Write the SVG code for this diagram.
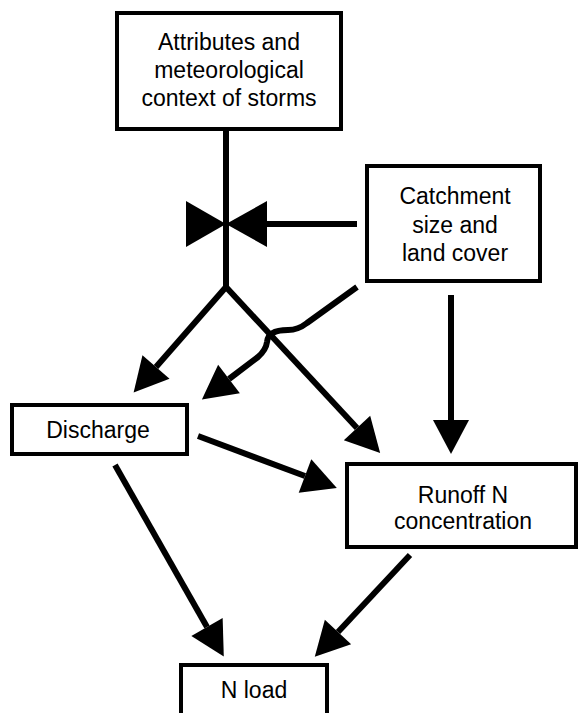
<svg xmlns="http://www.w3.org/2000/svg" width="579" height="713" viewBox="0 0 579 713">
<style>
.box{fill:#fff;stroke:#000;stroke-width:4}
.lbl{font-family:"Liberation Sans",Arial,Helvetica,sans-serif;font-size:23px;fill:#000;text-anchor:middle}
.ln{fill:none;stroke:#000;stroke-width:6;stroke-linejoin:round}
.arr{marker-end:url(#ah)}
</style>
<defs>
<marker id="ah" markerUnits="userSpaceOnUse" markerWidth="40" markerHeight="40" refX="0" refY="0" orient="auto" viewBox="0 -20 40 40" overflow="visible">
<path d="M0,-18 L34,0 L0,18 Z" fill="#000"/>
</marker>
</defs>
<rect width="579" height="713" fill="#fff"/>
<g id="connectors">
<line class="ln" x1="226" y1="130" x2="226" y2="287"/>
<polygon points="186,201 186,247 226,224" fill="#000"/>
<polygon points="267,201 267,247 226,224" fill="#000"/>
<line class="ln" x1="357" y1="224" x2="265" y2="224"/>
<polyline class="ln arr" points="226,287 156,367"/>
<polyline class="ln arr" points="226,287 357,428"/>
<path class="ln arr" d="M357,287 L307,323 Q298,330 288,330 Q268,330 267,342 Q266,350 258,357 L229,379"/>
<line class="ln arr" x1="451" y1="295" x2="451" y2="420"/>
<line class="ln arr" x1="198" y1="436" x2="305" y2="476"/>
<line class="ln arr" x1="115" y1="465" x2="207" y2="627"/>
<line class="ln arr" x1="410" y1="555" x2="338" y2="632"/>
</g>
<g id="storms">
<rect class="box" x="117" y="13" width="224" height="116"/>
<text class="lbl" x="229" y="50">Attributes and</text>
<text class="lbl" x="229" y="78">meteorological</text>
<text class="lbl" x="229" y="106">context of storms</text>
</g>
<g id="catchment">
<rect class="box" x="367" y="166" width="173" height="115"/>
<text class="lbl" x="455" y="204">Catchment</text>
<text class="lbl" x="455" y="233">size and</text>
<text class="lbl" x="455" y="261">land cover</text>
</g>
<g id="discharge">
<rect class="box" x="12" y="405" width="175" height="49"/>
<text class="lbl" x="98" y="438">Discharge</text>
</g>
<g id="runoff">
<rect class="box" x="347" y="464" width="229" height="83"/>
<text class="lbl" x="463" y="503">Runoff N</text>
<text class="lbl" x="463" y="529">concentration</text>
</g>
<g id="nload">
<rect class="box" x="181" y="665" width="146" height="60"/>
<text class="lbl" x="254" y="698">N load</text>
</g>
</svg>
